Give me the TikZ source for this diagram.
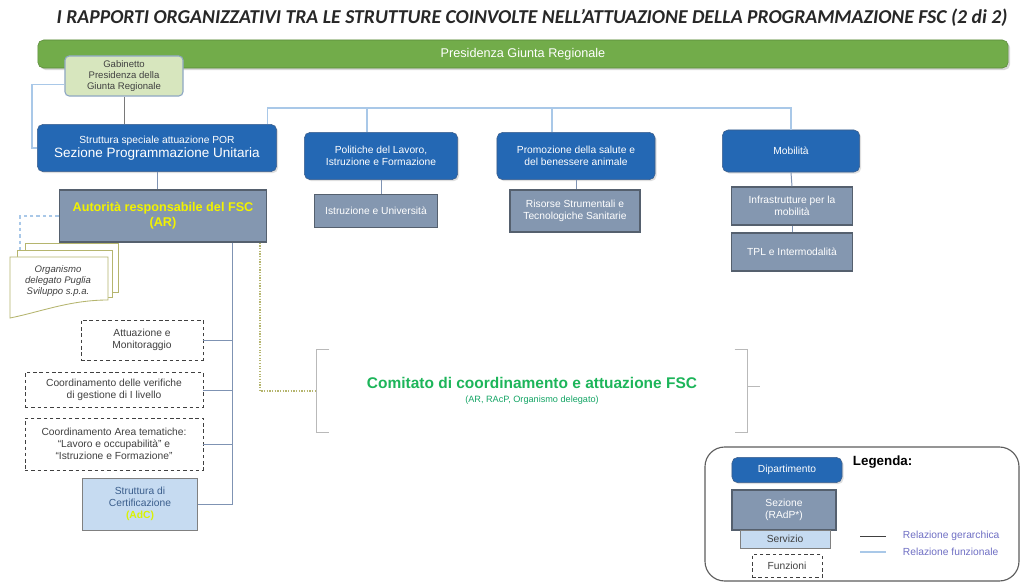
\documentclass[tikz,border=0pt]{standalone}
\usepackage{fontspec}
\setmainfont{Liberation Sans}
\newfontfamily\titlefont{Carlito}
\usetikzlibrary{shadows}
\definecolor{RPGreen}{HTML}{72AC4A}
\definecolor{RPBlue}{HTML}{2468B4}
\definecolor{RPBlueLine}{HTML}{3B5E8C}
\definecolor{RPSez}{HTML}{8497B0}
\definecolor{RPSezLine}{HTML}{55606E}
\definecolor{RPServ}{HTML}{C6DBF1}
\definecolor{RPGab}{HTML}{D7E6BE}
\definecolor{RPGabLine}{HTML}{8FA8C4}
\definecolor{RPText}{HTML}{404040}
\definecolor{RPYellow}{HTML}{F2F200}
\definecolor{RPOlive}{HTML}{B5B56E}
\definecolor{RPHier}{HTML}{7F93B3}
\definecolor{RPFun}{HTML}{A9C8E8}
\definecolor{RPCom}{HTML}{1DB55A}
\definecolor{RPLeg}{HTML}{6F6FC4}

\begin{document}
\begin{tikzpicture}[x=0.025cm,y=-0.025cm,
  box/.style={align=center,inner sep=1pt,font=\fontsize{7.3}{8.6}\selectfont},
  dip/.style={box,draw=RPBlueLine,fill=RPBlue,rounded corners=4pt,text=white,
    drop shadow={opacity=.25,shadow xshift=.04cm,shadow yshift=-.04cm}},
  sez/.style={box,draw=RPSezLine,line width=.9pt,fill=RPSez,text=white},
  serv/.style={box,draw=gray,line width=.7pt,fill=RPServ,text=RPText},
  funz/.style={box,draw=RPText,line width=.5pt,dash pattern=on 2.5pt off 2pt,text=RPText},
  relger/.style={RPHier,line width=.7pt},
  relfun/.style={RPFun,line width=.9pt},
  page/.style={draw=RPOlive,fill=white,line width=.6pt}]
\path[use as bounding box] (0,0) rectangle (1022,584);
\fill[white] (0,0) rectangle (1022,584);
% titolo e presidenza
\node (titolo) at (532,18) {\titlefont\bfseries\itshape\fontsize{14}{16}\selectfont\color{RPText!60!black}
  I RAPPORTI ORGANIZZATIVI TRA LE STRUTTURE COINVOLTE NELL’ATTUAZIONE DELLA PROGRAMMAZIONE FSC (2 di 2)};
\node[box,fill=RPGreen,draw=RPGreen!80!black,rounded corners=4pt,text=white,
  minimum width=24.25cm,minimum height=0.7cm,font=\fontsize{9}{10}\selectfont,
  drop shadow={opacity=.3,shadow xshift=.05cm,shadow yshift=-.05cm}] (pres) at (523,54) {Presidenza Giunta Regionale};
\node[box,fill=RPGab,draw=RPGabLine,line width=.8pt,rounded corners=3pt,text=RPText,
  minimum width=2.95cm,minimum height=1cm,font=\fontsize{6.8}{7.6}\selectfont] (gab) at (124,76)
  {Gabinetto\\Presidenza della\\Giunta Regionale};
% dipartimenti
\node[dip,minimum width=5.98cm,minimum height=1.18cm] (ssa) at (157,148)
  {Struttura speciale attuazione POR\\[1pt]{\fontsize{9.6}{10.5}\selectfont Sezione Programmazione Unitaria}};
\node[dip,minimum width=3.83cm,minimum height=1.18cm] (pol) at (381,156) {Politiche del Lavoro,\\Istruzione e Formazione};
\node[dip,minimum width=3.95cm,minimum height=1.18cm] (pro) at (576,156) {Promozione della salute e\\del benessere animale};
\node[dip,minimum width=3.43cm,minimum height=1.05cm] (mob) at (791,151) {Mobilità};
% sezioni
\node[sez,minimum width=3.08cm,minimum height=0.83cm] (istr) at (376,211) {Istruzione e Università};
\node[sez,minimum width=3.25cm,minimum height=1.05cm] (ris) at (575,211) {Risorse Strumentali e\\Tecnologiche Sanitarie};
\node[sez,minimum width=3.03cm,minimum height=0.95cm] (inf) at (792,206) {Infrastrutture per la\\mobilità};
\node[sez,minimum width=3.03cm,minimum height=0.95cm] (tpl) at (792,252) {TPL e Intermodalità};
\node[sez,minimum width=5.18cm,minimum height=1.3cm,text=RPYellow,font=\bfseries\fontsize{9}{10.5}\selectfont] (ar) at (163,216)
  {Autorità responsabile del FSC\\(AR)};
% funzioni
\node[funz,minimum width=3.05cm,minimum height=1cm] (att) at (142,340) {Attuazione e\\Monitoraggio};
\node[funz,minimum width=4.45cm,minimum height=0.88cm] (ver) at (114,390) {Coordinamento delle verifiche\\di gestione di I livello};
\node[funz,minimum width=4.45cm,minimum height=1.3cm] (area) at (114,444)
  {Coordinamento Area tematiche:\\“Lavoro e occupabilità” e\\“Istruzione e Formazione”};
\node[serv,minimum width=2.85cm,minimum height=1.3cm,text=RPBlueLine] (cert) at (140,504)
  {Struttura di\\Certificazione\\{\bfseries\color{RPYellow!90!green}(AdC)}};
% organismo delegato
\draw[page] (25,243) rectangle (118,292);
\draw[page] (17,250) rectangle (112,297);
\draw[page] (10,257) -- (108,257) -- (108,300) .. controls (70,300) and (40,312) .. (10,318) -- cycle;
\node[box,text=RPText,font=\itshape\fontsize{6.8}{8}\selectfont] (od) at (58,281) {Organismo\\delegato Puglia\\Sviluppo s.p.a.};
\coordinate (odin) at (20,250);
% comitato
\node[box,minimum width=10.78cm,minimum height=2.05cm] (com) at (532,391)
  {{\bfseries\fontsize{11}{13}\selectfont\color{RPCom}Comitato di coordinamento e attuazione FSC}\\[1pt]
   {\fontsize{6.5}{7.5}\selectfont\color{RPCom!70!teal}(AR, RAcP, Organismo delegato)}};
\draw[gray!55,line width=.7pt] ([xshift=.33cm]com.north west) -- (com.north west) -- (com.south west) -- ([xshift=.33cm]com.south west);
\draw[gray!55,line width=.7pt] ([xshift=-.33cm]com.north east) -- (com.north east) -- (com.south east) -- ([xshift=-.33cm]com.south east);
\draw[gray!55,line width=.7pt] ([yshift=.12cm]com.east) -- ++(12,0);
% relazioni
\coordinate (bus) at (0,108);
\coordinate (spine) at (232,0);
\draw[RPText!70,line width=.6pt] (gab.south) -- (gab.south |- ssa.north);
\draw[relfun] ([yshift=-.22cm]gab.west) -| ([xshift=-.13cm]ssa.west) -- (ssa.west);
\draw[relfun] ([xshift=-.24cm]ssa.north east) |- (bus -| mob.north) -- (mob.north);
\draw[relfun] ([xshift=-.35cm]pol.north) -- ([xshift=-.35cm]pol.north |- bus);
\draw[relfun] ([xshift=-.6cm]pro.north) -- ([xshift=-.6cm]pro.north |- bus);
\draw[relger] (ssa.south) -- (ssa.south |- ar.north);
\draw[relger] (pol.south) -- (pol.south |- istr.north);
\draw[relger] (pro.south) -- (pro.south |- ris.north);
\draw[relger] (mob.south) -- (inf.north);
\draw[relger] (inf.south) -- (tpl.north);
\draw[relger] (ar.south -| spine) |- (cert.east);
\draw[relger] (att.east) -- (att.east -| spine);
\draw[relger] (ver.east) -- (ver.east -| spine);
\draw[relger] (area.east) -- (area.east -| spine);
\draw[relfun,dash pattern=on 2.5pt off 2pt] (ar.west) -| (odin);
\draw[RPOlive,densely dotted,line width=.9pt] ([xshift=-.18cm]ar.south east) |- (com.west);
% legenda
\draw[RPText!85,line width=.8pt,rounded corners=14pt] (705,447) rectangle (1019,581);
\node[dip,minimum width=2.75cm,minimum height=0.63cm] (lgdip) at (787,470) {Dipartimento};
\node[anchor=west,font=\bfseries\fontsize{9.5}{10.5}\selectfont] (lgtit) at (848,462) {Legenda:};
\node[sez,minimum width=2.6cm,minimum height=1cm] (lgsez) at (784,510) {Sezione\\(RAdP*)};
\node[serv,minimum width=2.25cm,minimum height=0.45cm] (lgserv) at (785,539) {Servizio};
\node[funz,minimum width=1.75cm,minimum height=0.58cm] (lgfunz) at (787,566) {Funzioni};
\node[anchor=west,text=RPLeg,font=\fontsize{7.3}{8}\selectfont] (lgger) at (898,536) {Relazione gerarchica};
\node[anchor=west,text=RPLeg,font=\fontsize{7.3}{8}\selectfont] (lgfun) at (898,552) {Relazione funzionale};
\coordinate (lgger0) at (860,536);
\coordinate (lgfun0) at (860,552);
\draw[RPText,line width=.7pt] (lgger0) -- ([xshift=-.3cm]lgger.west);
\draw[relfun] (lgfun0) -- ([xshift=-.3cm]lgfun.west);
\end{tikzpicture}
\end{document}
